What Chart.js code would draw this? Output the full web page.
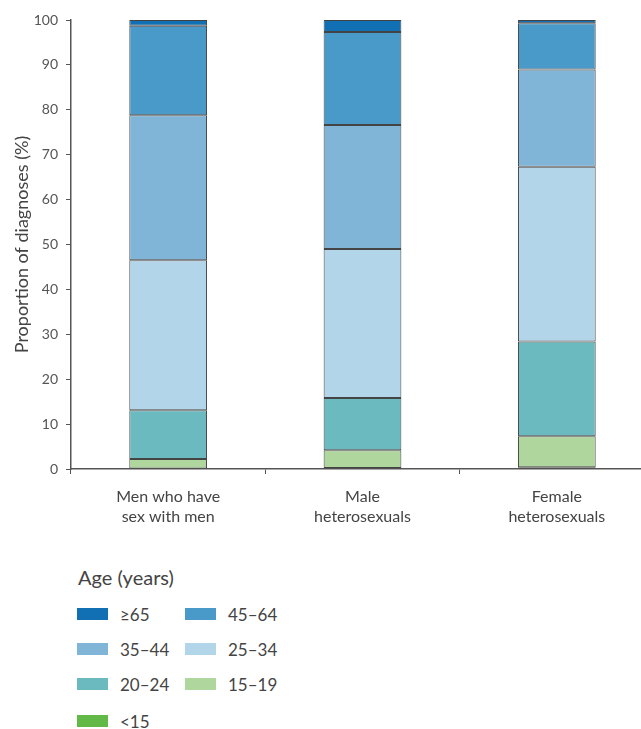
<!DOCTYPE html>
<html>
<head>
<meta charset="utf-8">
<script src="https://cdn.jsdelivr.net/npm/chart.js@4"></script>
<style>
  html, body { margin: 0; padding: 0; background: #fff; overflow: hidden; }
  body { width: 641px; height: 729px; position: relative; font-family: Lato, "Noto Sans", sans-serif; color: #444; }
  #wrap { position: absolute; left: 0; top: 0; width: 660px; height: 540px; }
  #legend-title { position: absolute; left: 78px; top: 565px; font-size: 20px; color: #444; }
  .item { position: absolute; font-size: 17px; color: #444; }
  .item .box { position: absolute; left: 0; top: 0; width: 31px; height: 12px; }
  .item .txt { position: absolute; left: 43px; top: -4px; white-space: nowrap; }
</style>
</head>
<body>
<div id="wrap"><canvas id="myChart" width="660" height="540"></canvas></div>
<div id="legend-title">Age (years)</div>
<div id="legend"></div>
<script>
// groups on the x axis
const categories = [['Men who have', 'sex with men'], ['Male', 'heterosexuals'], ['Female', 'heterosexuals']]

// age groups, stacked from the bottom up
const ageGroups = ['<15', '15–19', '20–24', '25–34', '35–44', '45–64', '≥65']
const ageColors = ['#62b947', '#afd69c', '#6bbabf', '#b3d5e9', '#80b5d8', '#4a9ac9', '#1170b4']

// proportion of diagnoses (%) per group
const under15 = [0.1, 0.2, 0.4]
const age15to19 = [2.1, 4.0, 6.9]
const age20to24 = [10.9, 11.6, 21.1]
const age25to34 = [33.4, 33.2, 38.9]
const age35to44 = [32.3, 27.6, 21.7]
const age45to64 = [19.9, 20.7, 10.3]
const age65plus = [1.3, 2.7, 0.7]

const yTicks = [0, 10, 20, 30, 40, 50, 60, 70, 80, 90, 100]

const seriesValues = [under15, age15to19, age20to24, age25to34, age35to44, age45to64, age65plus]

const datasets = []
for (let i = 0; i < ageGroups.length; i++) {
    datasets.push({
        label: ageGroups[i],
        data: seriesValues[i],
        backgroundColor: ageColors[i],
        borderColor: '#444',
        borderWidth: 1,
        borderSkipped: false,
        barPercentage: 0.4,
        categoryPercentage: 1.0
    })
}

const ctx = document.getElementById('myChart').getContext('2d')
const myChart = new Chart(ctx, {
    type: 'bar',
    data: { labels: categories, datasets: datasets },
    options: {
        responsive: false,
        animation: false,
        layout: { padding: { left: 0, top: 20, right: 6, bottom: 0 } },
        plugins: { legend: { display: false }, tooltip: { enabled: false } },
        scales: {
            x: {
                stacked: true,
                afterFit: function (scale) { scale.height = 71 },
                border: { color: '#555', width: 1.5 },
                grid: { drawOnChartArea: false, drawTicks: true, tickLength: 5, color: '#555', offset: true },
                ticks: {
                    color: '#444',
                    padding: 12,
                    font: { family: 'Lato', size: 16, lineHeight: 1.3 }
                }
            },
            y: {
                stacked: true,
                min: 0,
                max: 100,
                afterFit: function (scale) { scale.width = 71 },
                afterBuildTicks: function (scale) { scale.ticks = yTicks.map(v => ({ value: v })) },
                border: { color: '#555', width: 1.5 },
                grid: { drawOnChartArea: false, drawTicks: true, tickLength: 5, color: '#555' },
                ticks: {
                    color: '#555',
                    padding: 8,
                    font: { family: 'Lato', size: 14 }
                },
                title: {
                    display: true,
                    text: 'Proportion of diagnoses (%)',
                    color: '#444',
                    padding: { top: 11, bottom: 0 },
                    font: { family: 'Lato', size: 18 }
                }
            }
        }
    }
})

// legend, two columns, from the oldest group down
const legend = document.getElementById('legend')
const rowTops = [608, 643, 678, 715]
const colLefts = [77, 185]
const order = ageGroups.map((g, i) => i).reverse()
for (let k = 0; k < order.length; k++) {
    const i = order[k]
    const item = document.createElement('div')
    item.className = 'item'
    item.style.left = colLefts[k % 2] + 'px'
    item.style.top = rowTops[Math.floor(k / 2)] + 'px'
    const box = document.createElement('div')
    box.className = 'box'
    box.style.background = ageColors[i]
    const txt = document.createElement('div')
    txt.className = 'txt'
    txt.textContent = ageGroups[i]
    item.appendChild(box)
    item.appendChild(txt)
    legend.appendChild(item)
}
</script>
</body>
</html>
